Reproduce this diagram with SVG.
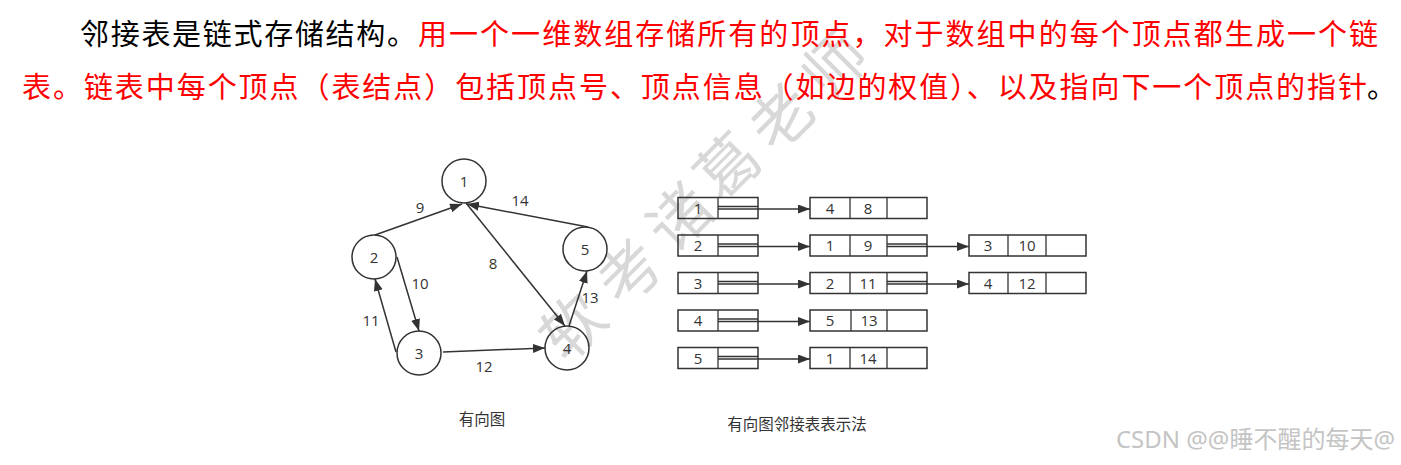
<svg xmlns="http://www.w3.org/2000/svg" width="1401" height="465" viewBox="0 0 1401 465">
<style>
.para{font-family:"Noto Sans CJK SC","Noto Sans",sans-serif;font-size:29px}
.red{fill:#ff0000}
.blk{fill:#000}
.wm{font-family:"Noto Sans CJK SC",sans-serif;font-size:62px;fill:#d8d8d8;text-anchor:middle}
.node circle{fill:none;stroke:#333;stroke-width:1.5}
.lbl{font-family:"Open Sans","Noto Sans",sans-serif;font-size:15px;fill:#333;text-anchor:middle}
.edge{stroke:#333;stroke-width:1.5;fill:none;marker-end:url(#ah)}
.box{fill:none;stroke:#333;stroke-width:1.5}
.ln{stroke:#333;stroke-width:1.3;fill:none}
.cap{font-family:"Noto Sans CJK SC","Noto Sans",sans-serif;font-size:15.5px;fill:#333;text-anchor:middle}
.csdn{font-family:"Noto Sans","Noto Sans CJK SC",sans-serif;font-size:24px;fill:#c4c4c4;text-anchor:end}
</style>
<defs>
<marker id="ah" markerWidth="13" markerHeight="10" refX="12" refY="4.5" orient="auto" markerUnits="userSpaceOnUse">
<path d="M0,0 L12,4.5 L0,9 z" fill="#333"/>
</marker>
</defs>
<rect width="1401" height="465" fill="#fff"/>
<g id="watermark">
<text class="wm" transform="translate(573,327) rotate(-45)" y="22">软</text>
<text class="wm" transform="translate(630,273) rotate(-45)" y="22">考</text>
<text class="wm" transform="translate(680,218) rotate(-45)" y="22">诸</text>
<text class="wm" transform="translate(728,167) rotate(-45)" y="22">葛</text>
<text class="wm" transform="translate(782,118) rotate(-45)" y="22">老</text>
<text class="wm" transform="translate(835,65) rotate(-45)" y="22">师</text>
</g>
<g id="paragraph">
<text class="para blk" x="80" y="45" textLength="336" lengthAdjust="spacing">邻接表是链式存储结构。</text>
<text class="para red" x="418" y="45" textLength="960" lengthAdjust="spacing">用一个一维数组存储所有的顶点，对于数组中的每个顶点都生成一个链</text>
<text class="para red" x="22" y="98" textLength="1345" lengthAdjust="spacing">表。链表中每个顶点（表结点）包括顶点号、顶点信息（如边的权值）、以及指向下一个顶点的指针</text>
<text class="para blk" x="1367" y="98">。</text>
</g>
<g id="connectors">
<path class="edge" d="M375,235 L462,204"/>
<path class="edge" d="M588,227 L467,204"/>
<path class="edge" d="M466,203 L565,326"/>
<path class="edge" d="M569,326 L587,271"/>
<path class="edge" d="M397,257 L419,331"/>
<path class="edge" d="M396,352 L375,279"/>
<path class="edge" d="M443,352 L545,348"/>
<text class="lbl" x="420" y="213">9</text>
<text class="lbl" x="520" y="206">14</text>
<text class="lbl" x="493" y="269">8</text>
<text class="lbl" x="590" y="303">13</text>
<text class="lbl" x="420" y="289">10</text>
<text class="lbl" x="371" y="326">11</text>
<text class="lbl" x="484" y="372">12</text>
</g>
<g id="node1" class="node"><circle cx="464" cy="181" r="22"/><text class="lbl" x="464" y="186.5">1</text></g>
<g id="node2" class="node"><circle cx="374" cy="257" r="22"/><text class="lbl" x="374" y="262.5">2</text></g>
<g id="node3" class="node"><circle cx="419" cy="353" r="22"/><text class="lbl" x="419" y="358.5">3</text></g>
<g id="node4" class="node"><circle cx="567" cy="348" r="22"/><text class="lbl" x="567" y="353.5">4</text></g>
<g id="node5" class="node"><circle cx="585" cy="249" r="22"/><text class="lbl" x="585" y="254.5">5</text></g>
<g id="caption1"><text class="cap" x="482" y="425">有向图</text></g>
<g id="table-head">
<g id="h1"><rect class="box" x="678" y="197.5" width="80" height="21"/><line class="ln" x1="718" y1="197.5" x2="718" y2="218.5"/><line class="ln" x1="718" y1="206.5" x2="758" y2="206.5"/><text class="lbl" x="698" y="213.5">1</text></g>
<g id="h2"><rect class="box" x="678" y="235" width="80" height="21"/><line class="ln" x1="718" y1="235" x2="718" y2="256"/><line class="ln" x1="718" y1="244" x2="758" y2="244"/><text class="lbl" x="698" y="251">2</text></g>
<g id="h3"><rect class="box" x="678" y="272.5" width="80" height="21"/><line class="ln" x1="718" y1="272.5" x2="718" y2="293.5"/><line class="ln" x1="718" y1="281.5" x2="758" y2="281.5"/><text class="lbl" x="698" y="288.5">3</text></g>
<g id="h4"><rect class="box" x="678" y="310" width="80" height="21"/><line class="ln" x1="718" y1="310" x2="718" y2="331"/><line class="ln" x1="718" y1="319" x2="758" y2="319"/><text class="lbl" x="698" y="326">4</text></g>
<g id="h5"><rect class="box" x="678" y="347.5" width="80" height="21"/><line class="ln" x1="718" y1="347.5" x2="718" y2="368.5"/><line class="ln" x1="718" y1="356.5" x2="758" y2="356.5"/><text class="lbl" x="698" y="363.5">5</text></g>
</g>
<g id="table-arcs">
<g id="e1-4"><rect class="box" x="810" y="197.5" width="117" height="21"/><line class="ln" x1="850" y1="197.5" x2="850" y2="218.5"/><line class="ln" x1="887" y1="197.5" x2="887" y2="218.5"/><text class="lbl" x="830" y="213.5">4</text><text class="lbl" x="868" y="213.5">8</text></g>
<g id="e2-1"><rect class="box" x="810" y="235" width="117" height="21"/><line class="ln" x1="850" y1="235" x2="850" y2="256"/><line class="ln" x1="887" y1="235" x2="887" y2="256"/><line class="ln" x1="887" y1="244" x2="927" y2="244"/><text class="lbl" x="830" y="251">1</text><text class="lbl" x="868" y="251">9</text></g>
<g id="e2-3"><rect class="box" x="969" y="235" width="117" height="21"/><line class="ln" x1="1008" y1="235" x2="1008" y2="256"/><line class="ln" x1="1046" y1="235" x2="1046" y2="256"/><text class="lbl" x="988" y="251">3</text><text class="lbl" x="1027" y="251">10</text></g>
<g id="e3-2"><rect class="box" x="810" y="272.5" width="117" height="21"/><line class="ln" x1="850" y1="272.5" x2="850" y2="293.5"/><line class="ln" x1="887" y1="272.5" x2="887" y2="293.5"/><line class="ln" x1="887" y1="281.5" x2="927" y2="281.5"/><text class="lbl" x="830" y="288.5">2</text><text class="lbl" x="868" y="288.5">11</text></g>
<g id="e3-4"><rect class="box" x="969" y="272.5" width="117" height="21"/><line class="ln" x1="1008" y1="272.5" x2="1008" y2="293.5"/><line class="ln" x1="1046" y1="272.5" x2="1046" y2="293.5"/><text class="lbl" x="988" y="288.5">4</text><text class="lbl" x="1027" y="288.5">12</text></g>
<g id="e4-5"><rect class="box" x="810" y="310" width="117" height="21"/><line class="ln" x1="851" y1="310" x2="851" y2="331"/><line class="ln" x1="887" y1="310" x2="887" y2="331"/><text class="lbl" x="830" y="326">5</text><text class="lbl" x="869" y="326">13</text></g>
<g id="e5-1"><rect class="box" x="810" y="347.5" width="117" height="21"/><line class="ln" x1="850" y1="347.5" x2="850" y2="368.5"/><line class="ln" x1="887" y1="347.5" x2="887" y2="368.5"/><text class="lbl" x="830" y="363.5">1</text><text class="lbl" x="868" y="363.5">14</text></g>
</g>
<g id="table-connectors">
<path class="edge" d="M718,209 L810,209"/>
<path class="edge" d="M718,246.5 L810,246.5"/>
<path class="edge" d="M887,246.5 L969,246.5"/>
<path class="edge" d="M718,284 L810,284"/>
<path class="edge" d="M887,284 L969,284"/>
<path class="edge" d="M718,321.5 L810,321.5"/>
<path class="edge" d="M718,359 L810,359"/>
</g>
<g id="caption2"><text class="cap" x="797" y="430">有向图邻接表表示法</text></g>
<g id="csdn"><text class="csdn" x="1395" y="448">CSDN @@睡不醒的每天@</text></g>
</svg>
